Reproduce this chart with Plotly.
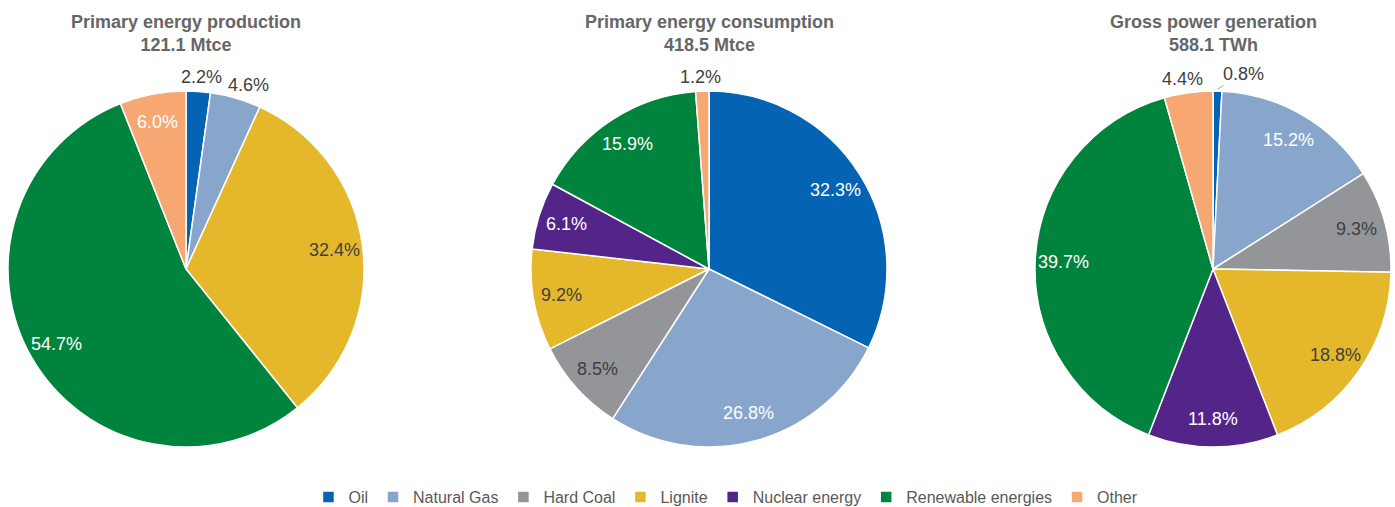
import math
import plotly.graph_objects as go

categories = ["Oil", "Natural Gas", "Hard Coal", "Lignite", "Nuclear energy",
              "Renewable energies", "Other"]
colors = ["#0563B3", "#88A6CC", "#939598", "#E5B82B", "#532588", "#00843D", "#F7A872"]

prod_labels = ["Oil", "Natural Gas", "Lignite", "Renewable energies", "Other"]
prod_values = [2.2, 4.6, 32.4, 54.7, 6.0]
cons_values = [32.3, 26.8, 8.5, 9.2, 6.1, 15.9, 1.2]
gen_values = [0.8, 15.2, 9.3, 18.8, 11.8, 39.7, 4.4]

titles = ["Primary energy production<br>121.1 Mtce",
          "Primary energy consumption<br>418.5 Mtce",
          "Gross power generation<br>588.1 TWh"]

W, H = 1395, 507
cy, R = 269, 178
centers = [186, 709, 1213]

cmap = dict(zip(categories, colors))
dark = {"Hard Coal", "Lignite"}
FONT = "Liberation Sans, Arial, sans-serif"
DARK_TXT = "#404040"
HW, HH = 20, 9  # approx half width / half height of a label box (px)


def dom(cx):
    return dict(x=[(cx - R) / W, (cx + R) / W],
                y=[(H - (cy + R)) / H, (H - (cy - R)) / H])


def pie_trace(labels, values, cx):
    return go.Pie(
        labels=labels, values=values,
        textinfo="none",
        marker=dict(colors=[cmap[l] for l in labels],
                    line=dict(color="white", width=1.5)),
        sort=False, direction="clockwise", rotation=0,
        domain=dom(cx), hoverinfo="label+value",
    )


def label_annotations(labels, values, cx):
    anns = []
    total = sum(values)
    cum = 0.0
    for l, v in zip(labels, values):
        th = 2 * math.pi * (cum + v / 2) / total
        cum += v
        s, c = math.sin(th), math.cos(th)
        txt = f"{v:.1f}%"
        if v >= 5:
            r = 0.84 * R
            col = DARK_TXT if l in dark else "#FFFFFF"
            anns.append(dict(x=(cx + r * s) / W, y=1 - (cy - r * c) / H,
                             text=txt, showarrow=False,
                             xanchor="center", yanchor="middle",
                             font=dict(size=18, color=col, family=FONT)))
        elif v >= 1:
            r = R + 5
            dx = max(-HW, min(HW, 2 * HW * s))
            dy = HH * c
            anns.append(dict(x=(cx + r * s + dx) / W, y=1 - (cy - r * c - dy) / H,
                             text=txt, showarrow=False,
                             xanchor="center", yanchor="middle",
                             font=dict(size=18, color=DARK_TXT, family=FONT)))
        else:
            r = R + 2
            anns.append(dict(x=(cx + r * s) / W, y=1 - (cy - r * c) / H,
                             text=txt, showarrow=True, arrowhead=0,
                             arrowwidth=1, arrowcolor="#A6A6A6",
                             ax=26, ay=-15, standoff=0,
                             font=dict(size=18, color=DARK_TXT, family=FONT)))
    for a in anns:
        a.update(xref="paper", yref="paper")
    return anns


fig = go.Figure()
# consumption pie first so the legend order follows all categories
fig.add_trace(pie_trace(categories, cons_values, centers[1]))
fig.add_trace(pie_trace(prod_labels, prod_values, centers[0]))
fig.add_trace(pie_trace(categories, gen_values, centers[2]))

anns = []
anns += label_annotations(prod_labels, prod_values, centers[0])
anns += label_annotations(categories, cons_values, centers[1])
anns += label_annotations(categories, gen_values, centers[2])

for cx, t in zip(centers, titles):
    anns.append(dict(x=cx / W, y=1 - 10 / H, xref="paper", yref="paper",
                     xanchor="center", yanchor="top", showarrow=False,
                     text=f"<b>{t}</b>",
                     font=dict(size=18, color="#666666", family=FONT)))

fig.update_layout(
    width=W, height=H,
    margin=dict(l=0, r=0, t=0, b=0, autoexpand=False),
    paper_bgcolor="white", plot_bgcolor="white",
    showlegend=True,
    annotations=anns,
    legend=dict(orientation="h", x=0.5204, xanchor="center",
                y=-0.0138, yanchor="bottom",
                font=dict(size=16, color="#595959", family=FONT),
                traceorder="normal", itemwidth=30),
    font=dict(family=FONT),
)

fig.write_html("out.html", config={"displayModeBar": False},
               post_script="document.body.style.margin='0';document.body.style.overflow='hidden';")
